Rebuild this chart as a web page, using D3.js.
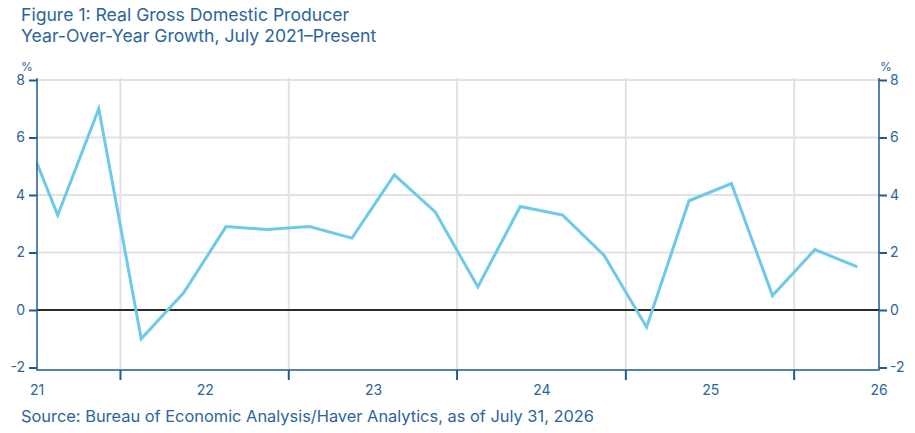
<!DOCTYPE html>
<html>
<head>
<meta charset="utf-8">
<script src="https://cdn.jsdelivr.net/npm/d3@7"></script>
<style>
  body { margin: 0; background: #fff; }
  text { font-family: Inter, "Noto Sans", sans-serif; }
</style>
</head>
<body>
<div id="chart"></div>
<script>
// Data: real GDP y/y growth, quarterly (plotted at quarter midpoints)
const dates = [
  "2021-01-01", "2021-02-15", "2021-05-15", "2021-08-15", "2021-11-15",
  "2022-02-15", "2022-05-15", "2022-08-15", "2022-11-15",
  "2023-02-15", "2023-05-15", "2023-08-15", "2023-11-15",
  "2024-02-15", "2024-05-15", "2024-08-15", "2024-11-15",
  "2025-02-15", "2025-05-15", "2025-08-15", "2025-11-15"
];
const growth = [
  5.1, 3.3, 7.0, -1.0, 0.6,
  2.9, 2.8, 2.9, 2.5,
  4.7, 3.4, 0.8, 3.6,
  3.3, 1.9, -0.6, 3.8,
  4.4, 0.5, 2.1, 1.5
];
const yearLabels = ["21", "22", "23", "24", "25", "26"];
const yTicks = [-2, 0, 2, 4, 6, 8];

const width = 915, height = 433;
const margin = {top: 80, right: 36, bottom: 63, left: 37};
const blue = "#2b64a0";
const axisBlue = "#1f5b93";

const parse = d3.timeParse("%Y-%m-%d");
const data = dates.map((d, i) => ({date: parse(d), value: growth[i]}));

const svg = d3.select("#chart")
  .append("svg")
  .attr("width", width)
  .attr("height", height);

const x = d3.scaleTime()
  .domain([new Date(2021, 0, 1), new Date(2026, 0, 1)])
  .range([margin.left, width - margin.right]);

const y = d3.scaleLinear()
  .domain([-2, 8])
  .range([367.5, margin.top]);

const plotBottom = 370;
const midYears = d3.range(2021, 2026).map(yr => new Date(yr, 6, 1));
const yearStarts = yearLabels.map(s => new Date(2000 + +s, 0, 1));
const tickFmt = d => d < 0 ? "-" + Math.abs(d) : String(d);

// Gridlines
svg.append("g")
  .selectAll("line")
  .data(yTicks.filter(t => t !== 0 && t !== -2))
  .join("line")
  .attr("x1", x.range()[0])
  .attr("x2", x.range()[1])
  .attr("y1", d => y(d))
  .attr("y2", d => y(d))
  .attr("stroke", "#e2e2e2")
  .attr("stroke-width", 2);

svg.append("g")
  .selectAll("line")
  .data(midYears)
  .join("line")
  .attr("x1", d => x(d))
  .attr("x2", d => x(d))
  .attr("y1", y(8) - 2)
  .attr("y2", plotBottom)
  .attr("stroke", "#e2e2e2")
  .attr("stroke-width", 2);

// Zero line
svg.append("line")
  .attr("x1", x.range()[0])
  .attr("x2", x.range()[1])
  .attr("y1", y(0))
  .attr("y2", y(0))
  .attr("stroke", "#2b2b2b")
  .attr("stroke-width", 2);

// Series line
svg.append("path")
  .datum(data)
  .attr("fill", "none")
  .attr("stroke", "#6dcae8")
  .attr("stroke-width", 3)
  .attr("stroke-linejoin", "miter")
  .attr("d", d3.line().x(d => x(d.date)).y(d => y(d.value)));

// Left axis
const yLeft = svg.append("g")
  .attr("transform", `translate(${margin.left},0)`)
  .call(d3.axisLeft(y).tickValues(yTicks).tickSize(8).tickPadding(4).tickFormat(tickFmt));

// Right axis
const yRight = svg.append("g")
  .attr("transform", `translate(${width - margin.right},0)`)
  .call(d3.axisRight(y).tickValues(yTicks).tickSize(8).tickPadding(3).tickFormat(tickFmt));

[yLeft, yRight].forEach(g => {
  g.select(".domain").remove();
  g.selectAll(".tick line").attr("stroke", axisBlue).attr("stroke-width", 2);
  g.selectAll("text").attr("fill", blue).style("font-size", "14px");
});

// Axis verticals and bottom
svg.append("path")
  .attr("d", `M${x.range()[0]},${y(8) - 2}V${plotBottom}H${x.range()[1]}V${y(8) - 2}`)
  .attr("fill", "none")
  .attr("stroke", axisBlue)
  .attr("stroke-width", 1.5);

// Year tick marks
svg.append("g")
  .selectAll("line")
  .data(midYears)
  .join("line")
  .attr("x1", d => x(d))
  .attr("x2", d => x(d))
  .attr("y1", plotBottom)
  .attr("y2", plotBottom + 10)
  .attr("stroke", axisBlue)
  .attr("stroke-width", 2);

// Year labels
svg.append("g")
  .selectAll("text")
  .data(yearStarts)
  .join("text")
  .attr("x", d => x(d))
  .attr("y", 395)
  .attr("text-anchor", "middle")
  .attr("fill", blue)
  .style("font-size", "14px")
  .text((d, i) => yearLabels[i]);

// % unit labels
svg.append("text")
  .attr("x", 27)
  .attr("y", 71)
  .attr("text-anchor", "middle")
  .attr("fill", blue)
  .style("font-size", "12px")
  .text("%");

svg.append("text")
  .attr("x", 886)
  .attr("y", 71)
  .attr("text-anchor", "middle")
  .attr("fill", blue)
  .style("font-size", "12px")
  .text("%");

// Title
svg.append("text")
  .attr("x", 21)
  .attr("y", 21)
  .attr("fill", blue)
  .style("font-size", "17.6px")
  .text("Figure 1: Real Gross Domestic Producer");

svg.append("text")
  .attr("x", 21)
  .attr("y", 42)
  .attr("fill", blue)
  .style("font-size", "17.6px")
  .text("Year-Over-Year Growth, July 2021\u2013Present");

// Source
svg.append("text")
  .attr("x", 21)
  .attr("y", 422)
  .attr("fill", blue)
  .style("font-size", "16.4px")
  .text("Source: Bureau of Economic Analysis/Haver Analytics, as of July 31, 2026");
</script>
</body>
</html>
